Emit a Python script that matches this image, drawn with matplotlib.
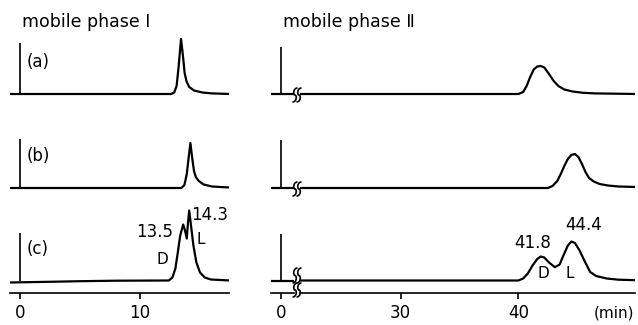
import numpy as np
import matplotlib.pyplot as plt
from matplotlib.path import Path
from matplotlib.patches import PathPatch

W, H = 638, 325

# ---- mobile phase I : retention time (min) / detector response (a.u.) ----
tL_a = [-0.9, 12.6, 12.85, 13.05, 13.2, 13.42, 13.58, 13.72, 13.88, 14.1, 14.5, 15.2, 16.0, 17.5]
yL_a = [0, 0, 1.5, 8, 25, 55, 38, 21, 12.5, 7, 3.5, 1.5, 0.6, 0]

tL_b = [-0.9, 13.45, 13.7, 13.9, 14.05, 14.2, 14.35, 14.5, 14.65, 14.9, 15.3, 16.0, 16.7, 17.5]
yL_b = [0, 0, 3, 14, 30, 45, 30, 17, 11, 7, 3.5, 1.5, 1, 0.5]

tL_c = [-0.9, 2.0, 5.0, 8.0, 12.4, 12.7, 12.95, 13.15, 13.35, 13.6, 13.75, 13.9, 14.0, 14.1,
        14.25, 14.45, 14.7, 15.0, 15.4, 15.9, 17.5]
yL_c = [-2, -1.4, -0.7, -0.2, 0, 3, 12, 28, 45, 56, 50, 42, 58, 70, 55, 35, 18, 8, 3, 1, 0]

# ---- mobile phase II ----
tR_a = [-0.9, 40.0, 40.4, 40.7, 41.0, 41.3, 41.6, 41.9, 42.2, 42.6, 43.0, 43.4, 43.9,
        44.6, 45.5, 46.5, 50.0]
yR_a = [0, 0, 2, 8, 17, 24.5, 27.5, 28, 26.5, 20, 13, 8, 4.5, 2.5, 1.2, 0.6, 0]

tR_b = [-0.9, 42.5, 42.9, 43.3, 43.6, 43.9, 44.2, 44.5, 44.8, 45.1, 45.4, 45.7, 46.0,
        46.4, 46.9, 47.6, 48.5, 50.0]
yR_b = [0, 0, 2, 7, 14, 22, 29, 33, 34, 31, 24, 16, 10, 6.5, 4, 2.5, 1.5, 1]

tR_c = [-0.9, 40.0, 40.4, 40.8, 41.2, 41.6, 41.9, 42.2, 42.6, 43.1, 43.5, 43.9, 44.2,
        44.5, 44.8, 45.2, 45.6, 46.1, 46.6, 47.5, 48.5, 50.0]
yR_c = [0, 0, 2, 7, 15, 21.5, 24, 23, 18, 13.3, 16, 27, 35, 39, 37.5, 30, 20, 8.5,
        4.5, 2, 0.8, 0.3]

# injection marks (height at t = 0)
injL = [51, 49, 48]
injR = [47, 48, 47]

row_labels = ["(a)", "(b)", "(c)"]
ticksL = [0, 10]
ticksR0 = [0]
ticksR1 = [30, 40]

# vertical position of each row's baseline (axes units = pixels above the time axis)
base = [198.5, 104.5, 12.0]
LW = 1.6
FONT = "DejaVu Sans"

plt.rcParams["font.family"] = FONT

fig = plt.figure(figsize=(W / 100, H / 100), dpi=100)


def px_axes(x0, x1, y_top, y_bot):
    return fig.add_axes([x0 / W, (H - y_bot) / H, (x1 - x0) / W, (y_bot - y_top) / H])


axL = px_axes(10, 229, 30, 292.5)
axR0 = px_axes(271, 294, 30, 292.5)
axR1 = px_axes(300, 635, 30, 292.5)

axL.set_xlim(-10 / 12, 209 / 12)
axR0.set_xlim((271 - 281) / 11.77, (294 - 281) / 11.77)
axR1.set_xlim(30 + (300 - 400.7) / 11.77, 30 + (635 - 400.7) / 11.77)

for ax, ticks in [(axL, ticksL), (axR0, ticksR0), (axR1, ticksR1)]:
    ax.set_ylim(0, 262.5)
    for s in ["top", "left", "right"]:
        ax.spines[s].set_visible(False)
    ax.spines["bottom"].set_linewidth(1.2)
    ax.set_yticks([])
    ax.set_xticks(ticks)
    ax.tick_params(axis="x", direction="out", length=4, width=1.2, pad=4,
                   labelsize=12)
    ax.patch.set_alpha(0)

left_rows = [(tL_a, yL_a), (tL_b, yL_b), (tL_c, yL_c)]
right_rows = [(tR_a, yR_a), (tR_b, yR_b), (tR_c, yR_c)]

for i in range(3):
    t, y = left_rows[i]
    axL.plot(t, np.array(y) + base[i], color="black", lw=LW, solid_joinstyle="round")
    axL.vlines(0, base[i], base[i] + injL[i], color="black", lw=1.2)
    axL.text(0.55, base[i] + 32, row_labels[i], fontsize=12, ha="left", va="center")

    t, y = right_rows[i]
    for ax in (axR0, axR1):
        ax.plot(t, np.array(y) + base[i], color="black", lw=LW, solid_joinstyle="round")
    axR0.vlines(0, base[i], base[i] + injR[i], color="black", lw=1.2)

# peak annotations
axL.text(12.75, 60.8, "13.5", fontsize=12, ha="right", va="center")
axL.text(14.25, 77.5, "14.3", fontsize=12, ha="left", va="center")
axL.text(11.9, 32.5, "D", fontsize=11, ha="center", va="center")
axL.text(15.08, 52.5, "L", fontsize=11, ha="center", va="center")

axR1.text(41.23, 49.2, "41.8", fontsize=12, ha="center", va="center")
axR1.text(45.52, 67.5, "44.4", fontsize=12, ha="center", va="center")
axR1.text(42.12, 19.5, "D", fontsize=11, ha="center", va="center")
axR1.text(44.4, 19.5, "L", fontsize=11, ha="center", va="center")

fig.text(22 / W, (H - 22) / H, "mobile phase \u2160", fontsize=12.5, ha="left", va="center")
fig.text(283 / W, (H - 22) / H, "mobile phase \u2161", fontsize=12.5, ha="left", va="center")
fig.text(634 / W, (H - 313) / H, "(min)", fontsize=11, ha="right", va="center")


def squiggle(x, y_top, y_bot):
    # S-shaped break mark, pixel coordinates measured from the top
    ym = (y_top + y_bot) / 2
    pts = [(x + 2.5, y_top), (x - 2, y_top), (x - 2, ym), (x, ym),
           (x + 2, ym), (x + 2, y_bot), (x - 2.5, y_bot)]
    verts = [(px / W, (H - py) / H) for px, py in pts]
    codes = [Path.MOVETO] + [Path.CURVE4] * 6
    fig.add_artist(PathPatch(Path(verts, codes), fill=False, lw=1.2,
                             transform=fig.transFigure))


for yb in (94, 188):
    squiggle(295, yb - 6, yb + 8)
    squiggle(299, yb - 6, yb + 8)
for x in (295, 299):
    squiggle(x, 268, 283)
    squiggle(x, 283, 297)

fig.savefig("out.png", dpi=100)
